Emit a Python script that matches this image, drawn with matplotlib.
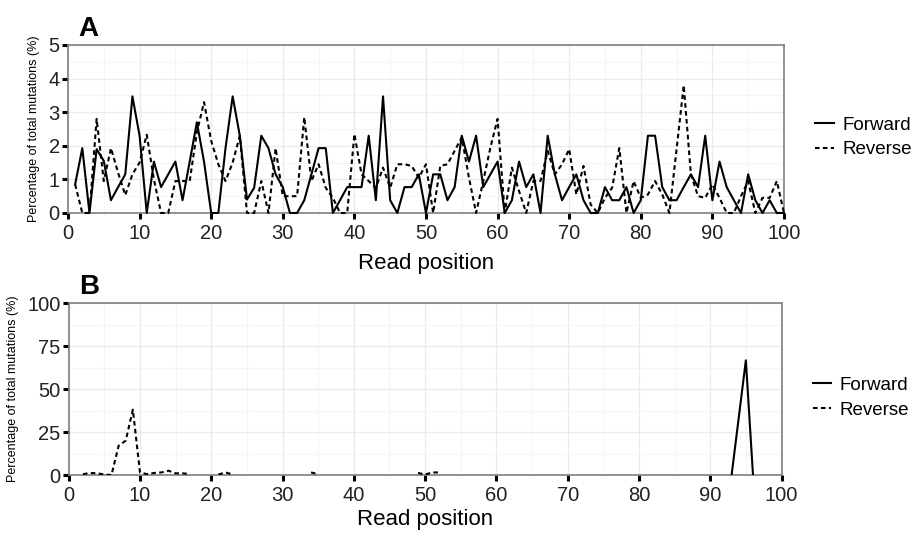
import numpy as np
import matplotlib
matplotlib.use("Agg")
import matplotlib.pyplot as plt

plt.rcParams['font.family'] = ['Liberation Sans', 'DejaVu Sans']

positions = np.arange(1, 101)

# panel A, percentage of total mutations per read position
forward_a = [0.85, 1.93, 0, 1.9, 1.55, 0.38, 0.77, 1.15, 3.47, 2.3,
             0, 1.53, 0.77, 1.15, 1.53, 0.38, 1.53, 2.7, 1.53, 0,
             0, 1.93, 3.47, 2.3, 0.4, 0.75, 2.3, 1.93, 1.15, 0.77,
             0, 0, 0.38, 1.15, 1.93, 1.93, 0, 0.38, 0.77, 0.77,
             0.77, 2.3, 0.38, 3.47, 0.38, 0, 0.77, 0.77, 1.15, 0,
             1.15, 1.15, 0.38, 0.77, 2.3, 1.53, 2.3, 0.77, 1.15, 1.53,
             0, 0.38, 1.53, 0.77, 1.15, 0, 2.3, 1.15, 0.38, 0.77,
             1.15, 0.38, 0, 0, 0.77, 0.38, 0.38, 0.77, 0, 0.38,
             2.3, 2.3, 0.77, 0.38, 0.38, 0.77, 1.15, 0.77, 2.3, 0.38,
             1.53, 0.77, 0.38, 0, 1.15, 0.38, 0, 0.38, 0, 0]
reverse_a = [0.85, 0, 0, 2.8, 0.95, 1.93, 1.2, 0.53, 1.15, 1.5,
             2.33, 1.0, 0, 0, 0.95, 0.95, 0.95, 2.4, 3.3, 2.15,
             1.45, 0.95, 1.5, 2.3, 0, 0, 0.95, 0, 1.93, 0.5,
             0.5, 0.5, 2.85, 0.95, 1.45, 0.75, 0.45, 0, 0, 2.35,
             1.15, 0.95, 0.75, 1.35, 0.75, 1.45, 1.45, 1.4, 1.05, 1.45,
             0, 1.4, 1.45, 1.85, 2.25, 1.05, 0, 0.95, 1.95, 2.8,
             0, 1.35, 0.65, 0, 0.95, 0.95, 1.85, 1.15, 1.45, 1.9,
             0.55, 1.4, 0.25, 0, 0.45, 0.75, 1.93, 0, 0.95, 0.45,
             0.55, 0.95, 0.55, 0, 1.9, 3.8, 1.15, 0.5, 0.45, 0.85,
             0.45, 0, 0, 0.5, 0.95, 0, 0.45, 0.45, 0.95, 0]

# panel B, only positions where something was seen
forward_b_pos = [93, 94, 95, 96]
forward_b_val = [0, 33.3, 66.7, 0]
reverse_b_pos = [2, 3, 4, 5, 6, 7, 8, 9, 10, 11, 12, 13, 14, 15, 16, 17,
                 21, 22, 23, 34, 35, 49, 50, 51, 52]
reverse_b_val = [0.5, 1.2, 1.0, 0.3, 0, 17, 20, 38, 1.5, 0.5, 1.2, 1.5, 2.5, 1.0, 1.0, 0.5,
                 0.3, 1.5, 0.3, 1.5, 0.5, 1.2, 0.3, 1.5, 1.5]


def full_series(pos, val):
    s = np.full(len(positions), np.nan)
    for p, v in zip(pos, val):
        s[p - 1] = v
    return s


forward_b = full_series(forward_b_pos, forward_b_val)
reverse_b = full_series(reverse_b_pos, reverse_b_val)

dash = (0, (2.2, 1.6))


def style_axes(ax, ymax, ymajor, label_letter, xpad):
    ax.set_xlim(0, 100)
    ax.set_ylim(0, ymax)
    ax.set_xticks(np.arange(0, 101, 10))
    ax.set_xticks(np.arange(5, 100, 10), minor=True)
    ax.set_yticks(np.arange(0, ymax + 0.001, ymajor))
    ax.set_yticks(np.arange(ymajor / 2, ymax, ymajor), minor=True)
    ax.grid(which='major', color='#ebebeb', lw=1.0)
    ax.grid(which='minor', color='#f5f5f5', lw=0.8)
    ax.set_axisbelow(True)
    for s in ax.spines.values():
        s.set_color('#7f7f7f')
        s.set_linewidth(1.2)
        s.set_zorder(1)
    ax.tick_params(which='major', direction='out', length=4, width=2.2, color='black',
                   labelsize=14.5, labelcolor='#222222')
    ax.tick_params(axis='x', which='major', pad=4)
    ax.tick_params(axis='y', which='major', pad=2)
    ax.tick_params(which='minor', length=0)
    ax.set_xlabel("Read position", fontsize=16, labelpad=xpad)
    ax.set_ylabel("Percentage of total mutations (%)", fontsize=9, labelpad=6)
    ax.text(0.014, 1.015, label_letter, transform=ax.transAxes, fontsize=20,
            fontweight='bold', ha='left', va='bottom')
    ax.legend(loc='center left', bbox_to_anchor=(1.02, 0.45), frameon=False,
              fontsize=13.5, handlelength=1.0, handletextpad=0.45, labelspacing=0.4,
              borderaxespad=0.5)


fig = plt.figure(figsize=(9.15, 5.35), dpi=100)

ax1 = fig.add_axes([0.0743, 0.6019, 0.7825, 0.314])
ax1.plot(positions, forward_a, color='black', lw=1.5, label='Forward', clip_on=False)
ax1.plot(positions, reverse_a, color='black', lw=1.5, ls=dash, label='Reverse', clip_on=False)
style_axes(ax1, 5, 1, 'A', 7)

ax2 = fig.add_axes([0.0751, 0.1121, 0.7790, 0.3215])
ax2.plot(positions, forward_b, color='black', lw=1.5, label='Forward')
ax2.plot(positions, reverse_b, color='black', lw=1.5, ls=dash, label='Reverse')
style_axes(ax2, 100, 25, 'B', 3)

fig.savefig("out.png", dpi=100)
